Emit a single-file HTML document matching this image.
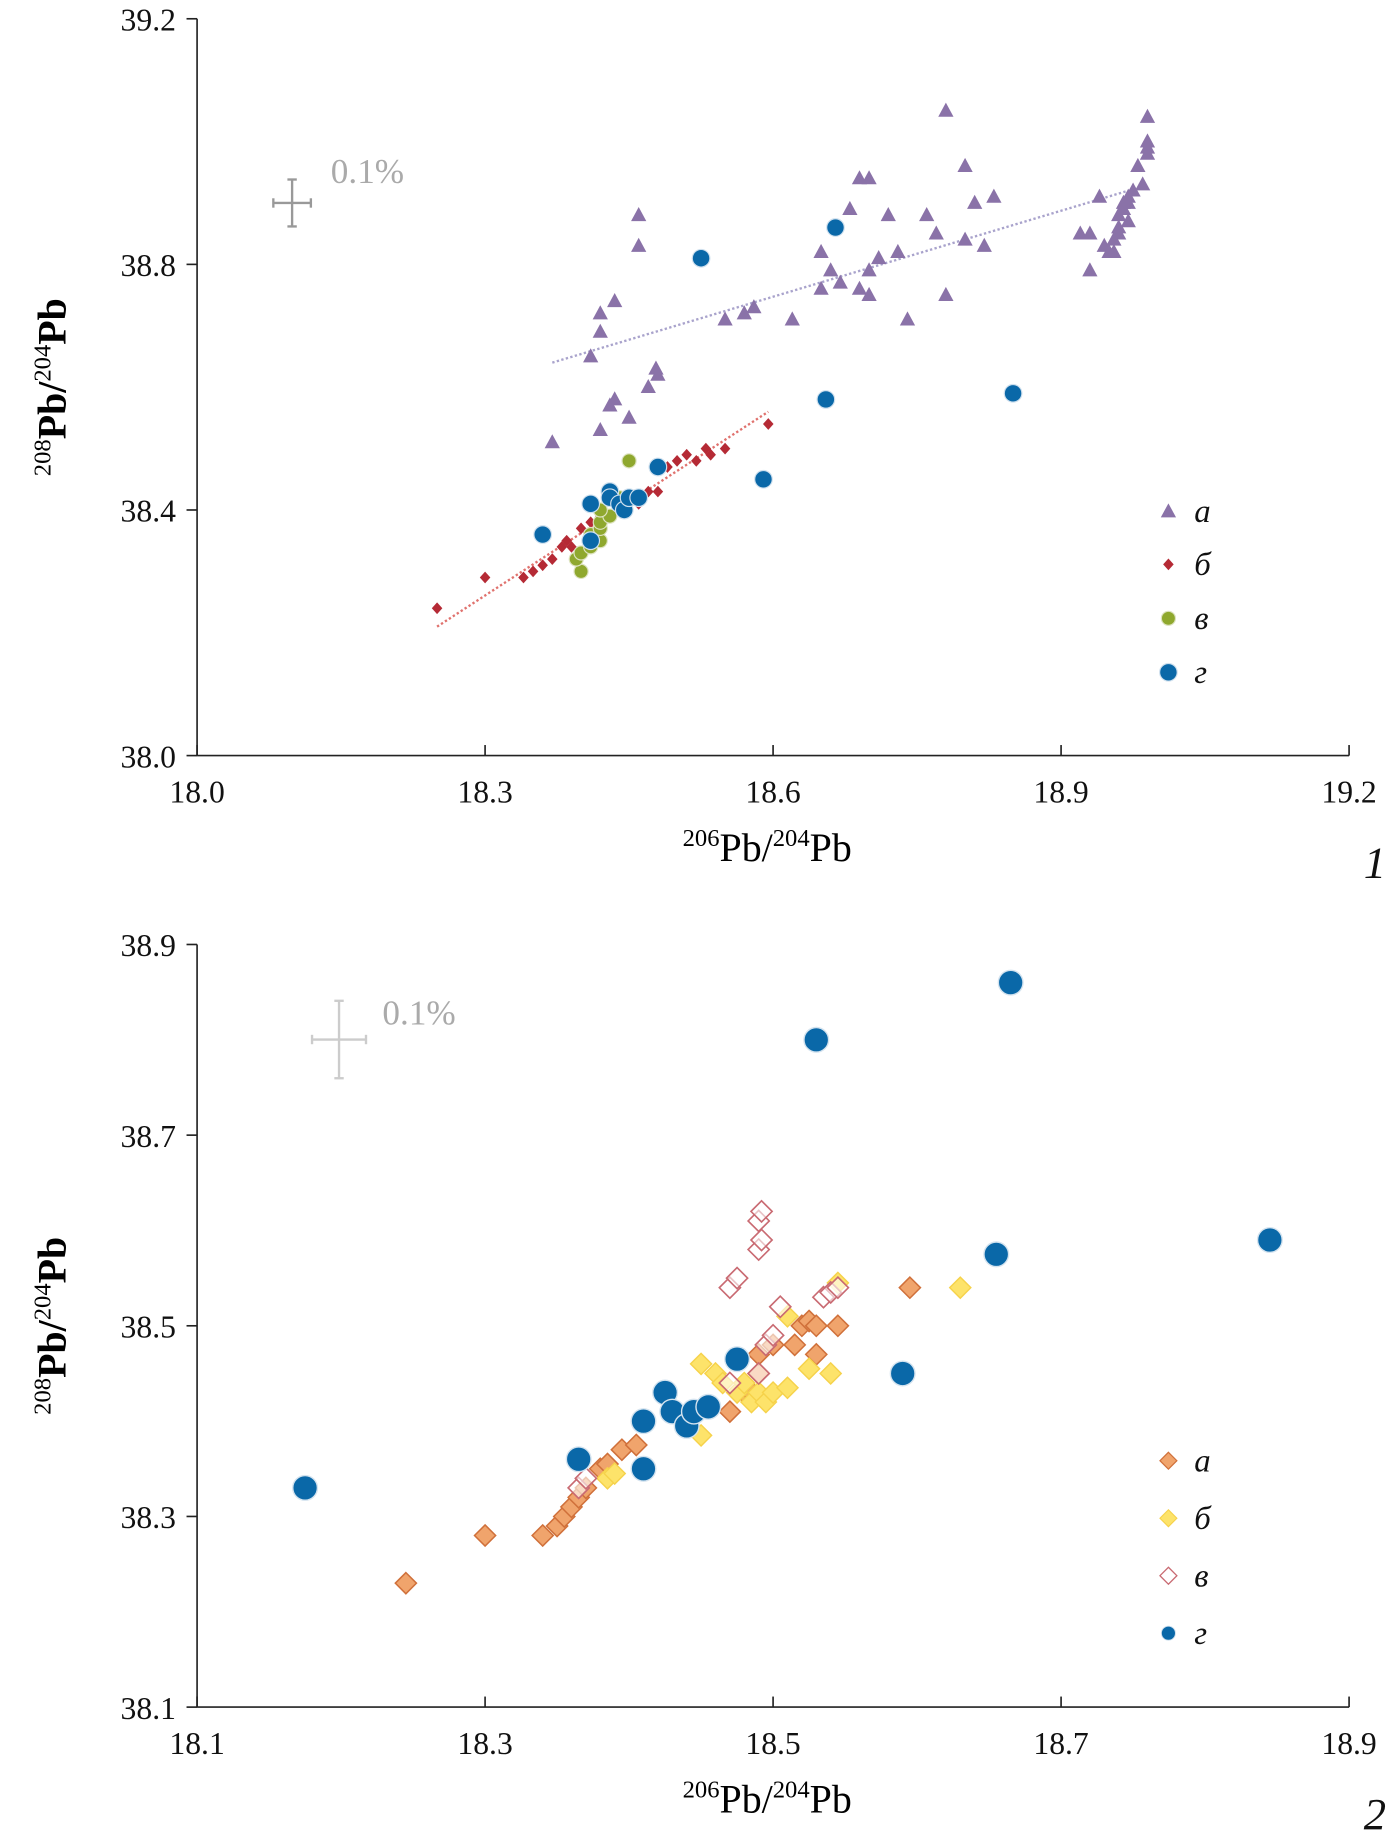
<!DOCTYPE html>
<html><head><meta charset="utf-8"><style>
html,body{margin:0;padding:0;background:#fff;}
svg{display:block;font-family:"Liberation Serif",serif;}
</style></head><body>
<svg id="chart" width="1396" height="1835" viewBox="0 0 1190 1564" preserveAspectRatio="none" xmlns="http://www.w3.org/2000/svg"></svg>
<script>
// ---------- Panel 1 data ----------
const p1XTicks = [18.0, 18.3, 18.6, 18.9, 19.2];
const p1YTicks = [38.0, 38.4, 38.8, 39.2];
const p1A_x = [18.37,18.42,18.43,18.435,18.45,18.47,18.48,18.478,18.41,18.42,18.42,18.435,18.46,18.46,18.55,18.57,18.58,18.62,18.65,18.65,18.66,18.67,18.68,18.69,18.70,18.69,18.70,18.70,18.71,18.72,18.73,18.74,18.76,18.77,18.78,18.78,18.80,18.80,18.81,18.82,18.83,18.92,18.93,18.93,18.94,18.945,18.95,18.955,18.96,18.96,18.965,18.97,18.97,18.975,18.98,18.985,18.99,18.99,18.99,18.99,18.955,18.96,18.965,18.97];
const p1A_y = [38.51,38.53,38.57,38.58,38.55,38.60,38.62,38.63,38.65,38.69,38.72,38.74,38.83,38.88,38.71,38.72,38.73,38.71,38.76,38.82,38.79,38.77,38.89,38.94,38.94,38.76,38.75,38.79,38.81,38.88,38.82,38.71,38.88,38.85,38.75,39.05,38.84,38.96,38.90,38.83,38.91,38.85,38.85,38.79,38.91,38.83,38.82,38.84,38.86,38.88,38.89,38.90,38.87,38.92,38.96,38.93,38.98,38.99,39.00,39.04,38.82,38.85,38.90,38.91];
const p1B_x = [18.25,18.30,18.34,18.35,18.36,18.37,18.38,18.385,18.39,18.40,18.41,18.42,18.45,18.46,18.47,18.48,18.49,18.50,18.51,18.52,18.53,18.535,18.55,18.595];
const p1B_y = [38.24,38.29,38.29,38.30,38.31,38.32,38.34,38.35,38.34,38.37,38.38,38.39,38.42,38.41,38.43,38.43,38.47,38.48,38.49,38.48,38.50,38.49,38.50,38.54];
const p1C_x = [18.40,18.395,18.40,18.41,18.42,18.41,18.42,18.42,18.43,18.42,18.44,18.45,18.41];
const p1C_y = [38.30,38.32,38.33,38.34,38.35,38.36,38.37,38.38,38.39,38.40,38.42,38.48,38.41];
const p1D_x = [18.36,18.41,18.41,18.43,18.43,18.44,18.445,18.45,18.46,18.48,18.525,18.59,18.655,18.665,18.85];
const p1D_y = [38.36,38.35,38.41,38.43,38.42,38.41,38.40,38.42,38.42,38.47,38.81,38.45,38.58,38.86,38.59];
const p1TrendA_x = [18.37, 18.97], p1TrendA_y = [38.64, 38.92];
const p1TrendB_x = [18.25, 18.595], p1TrendB_y = [38.21, 38.56];
// ---------- Panel 2 data ----------
const p2XTicks = [18.1, 18.3, 18.5, 18.7, 18.9];
const p2YTicks = [38.1, 38.3, 38.5, 38.7, 38.9];
const p2A_x = [18.245,18.30,18.34,18.35,18.355,18.36,18.365,18.37,18.38,18.385,18.395,18.405,18.47,18.48,18.49,18.49,18.50,18.515,18.52,18.525,18.53,18.53,18.545,18.595,18.485];
const p2A_y = [38.23,38.28,38.28,38.29,38.30,38.31,38.32,38.33,38.35,38.355,38.37,38.375,38.41,38.43,38.45,38.47,38.48,38.48,38.50,38.505,38.50,38.47,38.50,38.54,38.43];
const p2B_x = [18.385,18.39,18.45,18.45,18.46,18.465,18.475,18.485,18.49,18.495,18.50,18.51,18.51,18.525,18.54,18.545,18.63,18.48];
const p2B_y = [38.34,38.345,38.385,38.46,38.45,38.44,38.43,38.42,38.43,38.42,38.43,38.435,38.51,38.455,38.45,38.545,38.54,38.44];
const p2C_x = [18.365,18.37,18.47,18.475,18.49,18.492,18.49,18.492,18.495,18.50,18.505,18.535,18.54,18.545,18.49,18.47];
const p2C_y = [38.33,38.34,38.54,38.55,38.58,38.59,38.61,38.62,38.48,38.49,38.52,38.53,38.535,38.54,38.45,38.44];
const p2D_x = [18.175,18.365,18.41,18.41,18.425,18.43,18.44,18.445,18.455,18.475,18.53,18.59,18.655,18.665,18.845];
const p2D_y = [38.33,38.36,38.35,38.40,38.43,38.41,38.395,38.41,38.415,38.465,38.80,38.45,38.575,38.86,38.59];

const NS = "http://www.w3.org/2000/svg";
const svg = document.getElementById('chart');
function mk(tag, attrs, parent) {
  const e = document.createElementNS(NS, tag);
  for (const k in attrs) e.setAttribute(k, attrs[k]);
  (parent || svg).appendChild(e);
  return e;
}
function scale(d0, d1, r0, r1) { return v => r0 + (v - d0) / (d1 - d0) * (r1 - r0); }

function marker(g, kind, cx, cy, name) {
  let el;
  if (kind === 'tri') {
    el = mk('polygon', {points: `${cx},${cy-7} ${cx-6.5},${cy+5} ${cx+6.5},${cy+5}`, fill: '#8a72a8'}, g);
  } else if (kind === 'smalldia') {
    el = mk('polygon', {points: `${cx},${cy-5} ${cx+4.5},${cy} ${cx},${cy+5} ${cx-4.5},${cy}`, fill: '#b52a35'}, g);
  } else if (kind === 'green') {
    el = mk('circle', {cx, cy, r: 6, fill: '#8fa82e', stroke: '#dde3c0', 'stroke-width': 1}, g);
  } else if (kind === 'blue') {
    el = mk('circle', {cx, cy, r: 7.5, fill: '#0a68a8', stroke: '#cfe0ee', 'stroke-width': 1}, g);
  } else if (kind === 'blue2') {
    el = mk('circle', {cx, cy, r: 10.5, fill: '#0a68a8', stroke: '#d4e3ef', 'stroke-width': 1.2}, g);
  } else if (kind === 'orange') {
    el = mk('polygon', {points: `${cx},${cy-9} ${cx+9},${cy} ${cx},${cy+9} ${cx-9},${cy}`, fill: '#f0a46c', stroke: '#d0703a', 'stroke-width': 1.3}, g);
  } else if (kind === 'yellow') {
    el = mk('polygon', {points: `${cx},${cy-9} ${cx+9},${cy} ${cx},${cy+9} ${cx-9},${cy}`, fill: '#fde36a', stroke: '#f6d24a', 'stroke-width': 1.2}, g);
  } else if (kind === 'pink') {
    el = mk('polygon', {points: `${cx},${cy-9} ${cx+9},${cy} ${cx},${cy+9} ${cx-9},${cy}`, fill: '#fff', 'fill-opacity': 0.6, stroke: '#c96a72', 'stroke-width': 1.4}, g);
  }
  
  
  return el;
}

function text(x, y, str, attrs, name) {
  const t = mk('text', Object.assign({x, y}, attrs));
  t.textContent = str;
  
  
  return t;
}

function axisLabel(x, y, rotate, name, sup1, base1, sup2, base2, bold) {
  const t = mk('text', {x, y, 'text-anchor': 'middle', 'font-size': 34, 'font-weight': bold ? 'bold' : 'normal', transform: rotate ? `rotate(-90 ${x} ${y})` : ''});
  
  
  const parts = [[sup1, true], [base1, false], [sup2, true], [base2, false]];
  parts.forEach(([s, isSup]) => {
    const ts = mk('tspan', isSup ? {'font-size': 21, dy: -13, 'font-weight': 'normal'} : {dy: 13}, t);
    ts.textContent = s;
  });
}

function panel(cfg) {
  const X = scale(cfg.xd[0], cfg.xd[1], 168, 1150);
  const Y = scale(cfg.yd[0], cfg.yd[1], cfg.yb, cfg.yt);
  const ax = mk('g', {stroke: '#222', 'stroke-width': 1.4});
  
  
  mk('line', {x1: 168, y1: cfg.yb, x2: 1150, y2: cfg.yb}, ax);
  mk('line', {x1: 168, y1: cfg.yb, x2: 168, y2: cfg.yt}, ax);
  cfg.xt.forEach(v => {
    mk('line', {x1: X(v), y1: cfg.yb, x2: X(v), y2: cfg.yb - 9}, ax);
    text(X(v), cfg.yb + 40, v.toFixed(1), {'text-anchor': 'middle', 'font-size': 27, fill: '#111'}, cfg.id + '-x-tick-label');
  });
  cfg.yt2.forEach(v => {
    mk('line', {x1: 168, y1: Y(v), x2: 159, y2: Y(v)}, ax);
    text(150, Y(v) + 10, v.toFixed(1), {'text-anchor': 'end', 'font-size': 27, fill: '#111'}, cfg.id + '-y-tick-label');
  });
  // error cross
  const ec = mk('g', {stroke: cfg.crossColor, 'stroke-width': 2});
  
  
  const c = cfg.cross;
  mk('line', {x1: c.x - c.hw, y1: c.y, x2: c.x + c.hw, y2: c.y}, ec);
  mk('line', {x1: c.x, y1: c.y - c.hh, x2: c.x, y2: c.y + c.hh}, ec);
  mk('line', {x1: c.x - c.hw, y1: c.y - 4, x2: c.x - c.hw, y2: c.y + 4}, ec);
  mk('line', {x1: c.x + c.hw, y1: c.y - 4, x2: c.x + c.hw, y2: c.y + 4}, ec);
  mk('line', {x1: c.x - 4, y1: c.y - c.hh, x2: c.x + 4, y2: c.y - c.hh}, ec);
  mk('line', {x1: c.x - 4, y1: c.y + c.hh, x2: c.x + 4, y2: c.y + c.hh}, ec);
  text(c.tx, c.ty, '0.1%', {'font-size': 30, fill: '#aaa'}, cfg.id + '-error-label');
  // trends
  (cfg.trends || []).forEach(tr => {
    const l = mk('line', {x1: X(tr.x[0]), y1: Y(tr.y[0]), x2: X(tr.x[1]), y2: Y(tr.y[1]), stroke: tr.color, 'stroke-width': 2, 'stroke-dasharray': '2 2'});
    
    
  });
  // series
  cfg.series.forEach(s => {
    const g = mk('g', {});
    
    
    s.x.forEach((v, i) => marker(g, s.kind, X(v), Y(s.y[i]), s.name + '-point'));
  });
  // legend
  cfg.series.forEach((s, i) => {
    const ly = cfg.legY[i];
    const lg = mk('g', {});
    
    
    const small = {tri: 'tri', smalldia: 'smalldia', green: 'green', blue: 'blue', blue2: 'blue', orange: 'orange', yellow: 'yellow', pink: 'pink'}[s.kind];
    const m = marker(lg, small, 996, ly, 'legend-marker');
    if (cfg.id === 'panel2') m.setAttribute('transform', `translate(996 ${ly}) scale(0.8) translate(-996 ${-ly})`);
    text(1018, ly + 9, s.label, {'font-size': 28, 'font-style': 'italic', fill: '#111'}, 'legend-label');
  });
  axisLabel(654, cfg.yb + 90, false, cfg.id + '-x-axis-title', '206', 'Pb/', '204', 'Pb', false);
  axisLabel(56, (cfg.yb + cfg.yt) / 2, true, cfg.id + '-y-axis-title', '208', 'Pb/', '204', 'Pb', true);
  text(1172, cfg.yb + 104, cfg.num, {'font-size': 38, 'font-style': 'italic', 'text-anchor': 'middle', fill: '#111'}, cfg.id + '-panel-number');
}

panel({
  id: 'panel1', xd: [18.0, 19.2], yd: [38.0, 39.2], yb: 644, yt: 16, xt: p1XTicks, yt2: p1YTicks,
  cross: {x: 249, y: 173, hw: 16, hh: 20, tx: 282, ty: 156}, crossColor: '#999', num: '1',
  trends: [{x: p1TrendA_x, y: p1TrendA_y, color: '#a9a3cc', name: 'trend-line-a'}, {x: p1TrendB_x, y: p1TrendB_y, color: '#e0726e', name: 'trend-line-b'}],
  series: [
    {name: 'series-a', label: 'а', kind: 'tri', x: p1A_x, y: p1A_y},
    {name: 'series-b', label: 'б', kind: 'smalldia', x: p1B_x, y: p1B_y},
    {name: 'series-v', label: 'в', kind: 'green', x: p1C_x, y: p1C_y},
    {name: 'series-g', label: 'г', kind: 'blue', x: p1D_x, y: p1D_y}
  ],
  legY: [436, 481, 527, 573]
});
panel({
  id: 'panel2', xd: [18.1, 18.9], yd: [38.1, 38.9], yb: 1455, yt: 805, xt: p2XTicks, yt2: p2YTicks,
  cross: {x: 289, y: 886, hw: 23, hh: 33, tx: 326, ty: 873}, crossColor: '#ccc', num: '2',
  series: [
    {name: 'series-a', label: 'а', kind: 'orange', x: p2A_x, y: p2A_y},
    {name: 'series-b', label: 'б', kind: 'yellow', x: p2B_x, y: p2B_y},
    {name: 'series-v', label: 'в', kind: 'pink', x: p2C_x, y: p2C_y},
    {name: 'series-g', label: 'г', kind: 'blue2', x: p2D_x, y: p2D_y}
  ],
  legY: [1245, 1294, 1343, 1392]
});
</script>
</body></html>
